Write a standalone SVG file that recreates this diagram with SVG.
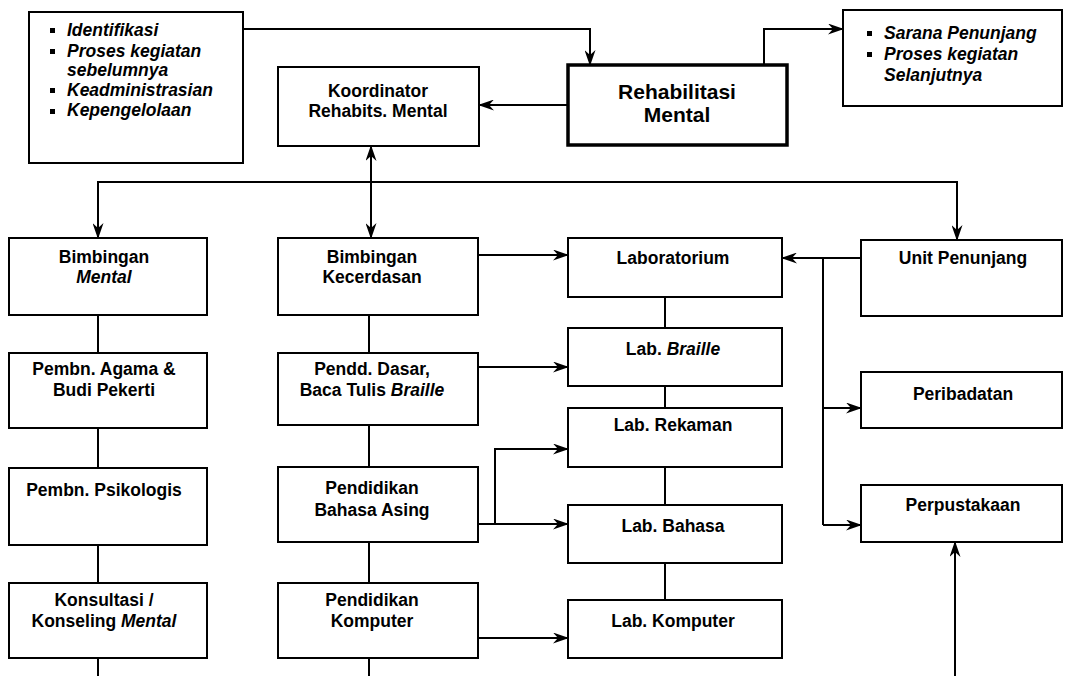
<svg xmlns="http://www.w3.org/2000/svg" width="1067" height="676" viewBox="0 0 1067 676">
  <style>
    .box { fill: #fff; stroke: #000; stroke-width: 2; }
    .thick { stroke-width: 3.5; }
    .t { font-family: "Liberation Sans", Arial, sans-serif; font-weight: bold; font-size: 17.5px; fill: #000; text-anchor: middle; }
    .big { font-size: 21px; }
    .list { font-family: "Liberation Sans", Arial, sans-serif; font-weight: bold; font-style: italic; font-size: 17.5px; fill: #000; }
    .it { font-style: italic; }
    .bul { fill: #000; }
    .c { fill: none; stroke: #000; stroke-width: 2; }
    .a { marker-end: url(#arr); }
  </style>
  <defs>
    <marker id="arr" viewBox="0 0 16 11" refX="15" refY="5.5" markerWidth="16" markerHeight="11" markerUnits="userSpaceOnUse" orient="auto-start-reverse">
      <path d="M0,0 L16,5.5 L0,11 L5,5.5 Z" fill="#000"/>
    </marker>
  </defs>
  <rect width="1067" height="676" fill="#fff"/>

  <!-- connectors -->
  <g id="connectors">
    <polyline class="c a" points="243,29 590,29 590,65"/>
    <polyline class="c a" points="764,65 764,29 843,29"/>
    <line class="c a" x1="568" y1="105" x2="479" y2="105"/>
    <line class="c a" x1="371" y1="182" x2="371" y2="146"/>
    <line class="c a" x1="371" y1="182" x2="371" y2="238"/>
    <polyline class="c a" points="371,182 98,182 98,238"/>
    <polyline class="c a" points="371,182 957,182 957,240"/>
    <!-- left column -->
    <line class="c" x1="98" y1="315" x2="98" y2="353"/>
    <line class="c" x1="98" y1="428" x2="98" y2="468"/>
    <line class="c" x1="98" y1="545" x2="98" y2="583"/>
    <line class="c" x1="98" y1="658" x2="98" y2="676"/>
    <!-- middle column -->
    <line class="c" x1="369" y1="315" x2="369" y2="353"/>
    <line class="c" x1="369" y1="425" x2="369" y2="467"/>
    <line class="c" x1="369" y1="542" x2="369" y2="583"/>
    <line class="c" x1="369" y1="658" x2="369" y2="676"/>
    <!-- lab column -->
    <line class="c" x1="665" y1="297" x2="665" y2="328"/>
    <line class="c" x1="665" y1="386" x2="665" y2="408"/>
    <line class="c" x1="665" y1="467" x2="665" y2="505"/>
    <line class="c" x1="665" y1="563" x2="665" y2="600"/>
    <!-- to labs -->
    <line class="c a" x1="478" y1="255" x2="568" y2="255"/>
    <line class="c a" x1="478" y1="367" x2="568" y2="367"/>
    <line class="c a" x1="478" y1="524" x2="568" y2="524"/>
    <polyline class="c a" points="495,524 495,449 568,449"/>
    <line class="c a" x1="478" y1="638" x2="568" y2="638"/>
    <!-- support unit -->
    <line class="c a" x1="861" y1="258" x2="782" y2="258"/>
    <line class="c" x1="823" y1="258" x2="823" y2="525"/>
    <line class="c a" x1="823" y1="408" x2="861" y2="408"/>
    <line class="c a" x1="823" y1="525" x2="861" y2="525"/>
    <line class="c a" x1="955" y1="676" x2="955" y2="542"/>
  </g>

  <g id="input-list">
    <rect class="box" x="29" y="12" width="214" height="151"/>
    <rect class="bul" x="50" y="28" width="5" height="5"/>
    <rect class="bul" x="50" y="49" width="5" height="5"/>
    <rect class="bul" x="50" y="88" width="5" height="5"/>
    <rect class="bul" x="50" y="109" width="5" height="5"/>
    <text class="list" x="67" y="36">Identifikasi</text>
    <text class="list" x="67" y="57">Proses  kegiatan</text>
    <text class="list" x="67" y="76">sebelumnya</text>
    <text class="list" x="67" y="96">Keadministrasian</text>
    <text class="list" x="67" y="116">Kepengelolaan</text>
  </g>

  <g id="koordinator">
    <rect class="box" x="278" y="67" width="201" height="79"/>
    <text class="t" x="378" y="97">Koordinator</text>
    <text class="t" x="378" y="117">Rehabits. Mental</text>
  </g>

  <g id="rehabilitasi">
    <rect class="box thick" x="568" y="65" width="219" height="80"/>
    <text class="t big" x="677" y="99">Rehabilitasi</text>
    <text class="t big" x="677" y="122">Mental</text>
  </g>

  <g id="output-list">
    <rect class="box" x="843" y="10" width="219" height="96"/>
    <rect class="bul" x="867" y="31" width="5" height="5"/>
    <rect class="bul" x="867" y="52" width="5" height="5"/>
    <text class="list" x="884" y="39">Sarana Penunjang</text>
    <text class="list" x="884" y="60">Proses  kegiatan</text>
    <text class="list" x="884" y="81">Selanjutnya</text>
  </g>

  <g id="bimbingan-mental">
    <rect class="box" x="9" y="238" width="198" height="77"/>
    <text class="t" x="104" y="263">Bimbingan</text>
    <text class="t it" x="104" y="283">Mental</text>
  </g>

  <g id="bimbingan-kecerdasan">
    <rect class="box" x="278" y="238" width="200" height="77"/>
    <text class="t" x="372" y="263">Bimbingan</text>
    <text class="t" x="372" y="283">Kecerdasan</text>
  </g>

  <g id="laboratorium">
    <rect class="box" x="568" y="238" width="214" height="59"/>
    <text class="t" x="673" y="264">Laboratorium</text>
  </g>

  <g id="unit-penunjang">
    <rect class="box" x="861" y="240" width="201" height="76"/>
    <text class="t" x="963" y="264">Unit Penunjang</text>
  </g>

  <g id="pembn-agama">
    <rect class="box" x="9" y="353" width="198" height="75"/>
    <text class="t" x="104" y="375">Pembn. Agama &amp;</text>
    <text class="t" x="104" y="396">Budi Pekerti</text>
  </g>

  <g id="pendd-dasar">
    <rect class="box" x="278" y="353" width="200" height="72"/>
    <text class="t" x="372" y="375">Pendd.  Dasar,</text>
    <text class="t" x="372" y="396">Baca Tulis <tspan class="it">Braille</tspan></text>
  </g>

  <g id="lab-braille">
    <rect class="box" x="568" y="328" width="214" height="58"/>
    <text class="t" x="673" y="355">Lab. <tspan class="it">Braille</tspan></text>
  </g>

  <g id="peribadatan">
    <rect class="box" x="861" y="372" width="201" height="56"/>
    <text class="t" x="963" y="400">Peribadatan</text>
  </g>

  <g id="lab-rekaman">
    <rect class="box" x="568" y="408" width="214" height="59"/>
    <text class="t" x="673" y="431">Lab. Rekaman</text>
  </g>

  <g id="pembn-psikologis">
    <rect class="box" x="9" y="468" width="198" height="77"/>
    <text class="t" x="104" y="496">Pembn. Psikologis</text>
  </g>

  <g id="pendidikan-bahasa">
    <rect class="box" x="278" y="467" width="200" height="75"/>
    <text class="t" x="372" y="494">Pendidikan</text>
    <text class="t" x="372" y="516">Bahasa Asing</text>
  </g>

  <g id="lab-bahasa">
    <rect class="box" x="568" y="505" width="214" height="58"/>
    <text class="t" x="673" y="532">Lab. Bahasa</text>
  </g>

  <g id="perpustakaan">
    <rect class="box" x="861" y="485" width="201" height="57"/>
    <text class="t" x="963" y="511">Perpustakaan</text>
  </g>

  <g id="konsultasi">
    <rect class="box" x="9" y="583" width="198" height="75"/>
    <text class="t" x="104" y="606">Konsultasi /</text>
    <text class="t" x="104" y="627">Konseling <tspan class="it">Mental</tspan></text>
  </g>

  <g id="pendidikan-komputer">
    <rect class="box" x="278" y="583" width="200" height="75"/>
    <text class="t" x="372" y="606">Pendidikan</text>
    <text class="t" x="372" y="627">Komputer</text>
  </g>

  <g id="lab-komputer">
    <rect class="box" x="568" y="600" width="214" height="58"/>
    <text class="t" x="673" y="627">Lab. Komputer</text>
  </g>
</svg>
